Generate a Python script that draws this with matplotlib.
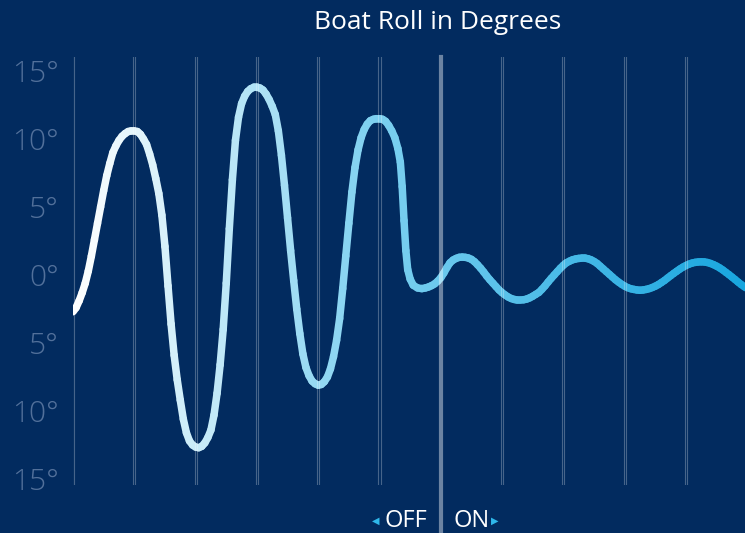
import numpy as np
import matplotlib.pyplot as plt
from matplotlib.collections import LineCollection
from matplotlib.colors import LinearSegmentedColormap

plt.rcParams['font.family'] = ['Open Sans', 'DejaVu Sans']

# thời gian (ô lưới) và góc lắc (độ)
t = [0.00, 0.05, 0.10, 0.15, 0.20, 0.25, 0.30, 0.35, 0.40, 0.45, 0.50, 0.55, 0.60, 0.65, 0.70,
     0.75, 0.80, 0.85, 0.90, 0.95, 1.00, 1.05, 1.10, 1.15, 1.20, 1.25, 1.30, 1.35, 1.40, 1.45,
     1.50, 1.55, 1.60, 1.65, 1.70, 1.75, 1.80, 1.85, 1.90, 1.95, 2.00, 2.05, 2.10, 2.15, 2.20,
     2.25, 2.30, 2.35, 2.40, 2.45, 2.50, 2.55, 2.60, 2.65, 2.70, 2.75, 2.80, 2.85, 2.90, 2.95,
     3.00, 3.05, 3.10, 3.15, 3.20, 3.25, 3.30, 3.35, 3.40, 3.45, 3.50, 3.55, 3.60, 3.65, 3.70,
     3.75, 3.80, 3.85, 3.90, 3.95, 4.00, 4.05, 4.10, 4.15, 4.20, 4.25, 4.30, 4.35, 4.40, 4.45,
     4.50, 4.55, 4.60, 4.65, 4.70, 4.75, 4.80, 4.85, 4.90, 4.95, 5.00, 5.05, 5.10, 5.15, 5.20,
     5.25, 5.30, 5.34, 5.37, 5.40, 5.43, 5.46, 5.50, 5.55, 5.62, 5.69, 5.75, 5.80, 5.85, 5.90,
     5.95, 6.00, 6.05, 6.10, 6.15, 6.20, 6.25, 6.30, 6.35, 6.40, 6.45, 6.50, 6.55, 6.60, 6.65,
     6.70, 6.75, 6.80, 6.85, 6.90, 6.95, 7.00, 7.05, 7.10, 7.15, 7.20, 7.25, 7.30, 7.35, 7.40,
     7.45, 7.50, 7.55, 7.60, 7.65, 7.70, 7.75, 7.80, 7.85, 7.90, 7.95, 8.00, 8.05, 8.10, 8.15,
     8.20, 8.25, 8.30, 8.35, 8.40, 8.45, 8.50, 8.55, 8.60, 8.65, 8.70, 8.75, 8.80, 8.85, 8.90,
     8.95, 9.00, 9.05, 9.10, 9.15, 9.20, 9.25, 9.30, 9.35, 9.40, 9.45, 9.50, 9.55, 9.60, 9.65,
     9.70, 9.75, 9.80, 9.85, 9.90, 9.95, 10.00, 10.05, 10.10, 10.15, 10.20, 10.25, 10.30, 10.35,
     10.40, 10.45, 10.50, 10.55, 10.60, 10.65, 10.70, 10.75, 10.80, 10.85, 10.90, 10.95, 11.00]
roll = [-2.7, -2.4, -1.9, -1.3, -0.6, 0.3, 1.4, 2.6, 3.8, 5.0, 6.2, 7.3, 8.2, 9.0, 9.5,
        9.9, 10.2, 10.4, 10.55, 10.6, 10.6, 10.55, 10.35, 10.0, 9.6, 8.9, 8.1, 7.1, 6.0, 4.4,
        2.1, -0.8, -3.6, -5.9, -7.7, -9.2, -10.6, -11.6, -12.2, -12.5, -12.65, -12.7, -12.6, -12.35, -11.95,
        -11.4, -10.3, -8.7, -6.6, -4.0, -0.6, 3.4, 7.0, 9.9, 11.6, 12.6, 13.15, 13.5, 13.7, 13.8,
        13.8, 13.75, 13.6, 13.3, 12.9, 12.4, 11.8, 10.6, 8.8, 6.6, 4.2, 1.8, -0.4, -2.5, -4.3,
        -5.8, -6.8, -7.4, -7.8, -8.0, -8.1, -8.05, -7.85, -7.5, -6.9, -6.0, -4.8, -3.2, -1.0, 1.4,
        3.8, 6.1, 7.9, 9.2, 10.1, 10.7, 11.1, 11.35, 11.45, 11.5, 11.5, 11.45, 11.3, 11.0, 10.6,
        10.1, 9.3, 8.3, 6.5, 4.0, 1.8, 0.4, -0.3, -0.75, -0.95, -1.0, -0.95, -0.88, -0.78, -0.65,
        -0.45, -0.2, 0.15, 0.55, 0.9, 1.1, 1.22, 1.3, 1.32, 1.3, 1.25, 1.15, 0.98, 0.75, 0.5,
        0.22, -0.08, -0.35, -0.6, -0.85, -1.1, -1.3, -1.47, -1.62, -1.73, -1.8, -1.84, -1.84, -1.82, -1.77,
        -1.68, -1.56, -1.42, -1.28, -1.05, -0.8, -0.52, -0.25, 0.0, 0.25, 0.5, 0.72, 0.9, 1.02, 1.12,
        1.18, 1.22, 1.24, 1.24, 1.2, 1.12, 1.0, 0.85, 0.65, 0.45, 0.25, 0.05, -0.15, -0.35, -0.52,
        -0.68, -0.82, -0.93, -1.01, -1.06, -1.1, -1.12, -1.1, -1.06, -1.0, -0.92, -0.82, -0.7, -0.55, -0.4,
        -0.22, -0.05, 0.12, 0.28, 0.44, 0.58, 0.7, 0.8, 0.88, 0.93, 0.96, 0.97, 0.96, 0.92,
        0.85, 0.76, 0.65, 0.52, 0.37, 0.2, 0.03, -0.15, -0.33, -0.52, -0.7, -0.86, -1.0]
ytick_vals = [15, 10, 5, 0, -5, -10, -15]
ytick_labels = ['15°', '10°', '5°', '0°', '5°', '10°', '15°']
grid_t = [0, 1, 2, 3, 4, 5, 7, 8, 9, 10]
switch_t = 6

bg = '#022b5f'
fig = plt.figure(figsize=(7.45, 5.33), dpi=100, facecolor=bg)
ax = fig.add_axes([73 / 745, 48 / 533, 672 / 745, 428 / 533])
ax.set_facecolor(bg)
ax.set_xlim(0, 672 / 61.3)
ax.set_ylim(-15.44, 16.03)

# đường cong đổi màu từ trắng sang xanh
cmap = LinearSegmentedColormap.from_list('roll', [(0, '#ffffff'), (0.45, '#7dd0f0'), (1, '#18a6df')])
pts = np.column_stack([t, roll])
segs = np.stack([pts[:-1], pts[1:]], axis=1)
mid = (np.array(t[:-1]) + np.array(t[1:])) / 2
lc = LineCollection(segs, colors=cmap(mid / 11), linewidths=5.4, capstyle='round', joinstyle='round', zorder=2)
ax.add_collection(lc)

# các vạch dọc rỗng
for g in grid_t:
    for d in (-0.017, 0.017):
        ax.axvline(g + d, color='white', alpha=0.27, lw=0.8, zorder=3)
ax.plot([switch_t, switch_t], [16.03, -20], color='white', alpha=0.42, lw=3, clip_on=False, zorder=3)

ax.set_xticks([])
ax.set_yticks(ytick_vals)
ax.set_yticklabels(ytick_labels, fontweight='light')
ax.tick_params(axis='y', length=0, pad=10, labelsize=21.5, labelcolor='#52709a')
for s in ax.spines.values():
    s.set_visible(False)

fig.text(438 / 745, 1 - 22 / 533, 'Boat Roll in Degrees', ha='center', va='center', fontsize=19, color='white')
fig.text(427 / 745, 1 - 521 / 533, 'OFF', ha='right', va='center', fontsize=17, color='white')
fig.text(453 / 745, 1 - 521 / 533, 'ON', ha='left', va='center', fontsize=17, color='white')
fig.text(376 / 745, 1 - 521 / 533, '◀', ha='center', va='center', fontsize=7, color='#2fb8ea', family='DejaVu Sans')
fig.text(495 / 745, 1 - 521 / 533, '▶', ha='center', va='center', fontsize=7, color='#2fb8ea', family='DejaVu Sans')

fig.savefig('out.png', dpi=100, facecolor=bg)
